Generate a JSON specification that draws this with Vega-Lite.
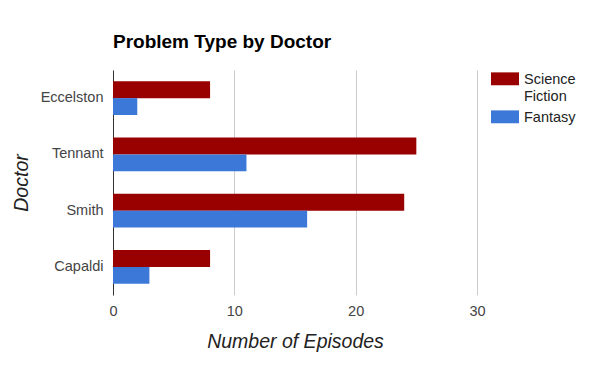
{
  "$schema": "https://vega.github.io/schema/vega-lite/v6.json",
  "autosize": {"type": "none"},
  "padding": {"left": 113, "top": 70, "right": 113, "bottom": 70},
  "width": 364,
  "height": 225,
  "background": "white",
  "config": {"view": {"stroke": null}},
  "title": {
    "text": "Problem Type by Doctor",
    "anchor": "start",
    "frame": "group",
    "font": "Liberation Sans",
    "fontSize": 19,
    "fontWeight": "bold",
    "color": "#000000",
    "offset": 18
  },
  "data": {
    "values": [
      {"doctor": "Eccelston", "type": "Science Fiction", "episodes": 8},
      {"doctor": "Eccelston", "type": "Fantasy", "episodes": 2},
      {"doctor": "Tennant", "type": "Science Fiction", "episodes": 25},
      {"doctor": "Tennant", "type": "Fantasy", "episodes": 11},
      {"doctor": "Smith", "type": "Science Fiction", "episodes": 24},
      {"doctor": "Smith", "type": "Fantasy", "episodes": 16},
      {"doctor": "Capaldi", "type": "Science Fiction", "episodes": 8},
      {"doctor": "Capaldi", "type": "Fantasy", "episodes": 3}
    ]
  },
  "mark": {"type": "bar"},
  "encoding": {
    "y": {
      "field": "doctor",
      "type": "nominal",
      "sort": ["Eccelston", "Tennant", "Smith", "Capaldi"],
      "scale": {"paddingInner": 0.4, "paddingOuter": 0.2},
      "axis": {
        "title": "Doctor",
        "titleFont": "Liberation Sans",
        "titleFontSize": 19.5,
        "titleFontStyle": "italic",
        "titleFontWeight": "normal",
        "titleColor": "#222222",
        "titlePadding": 9,
        "labelFont": "Liberation Sans",
        "labelFontSize": 14.5,
        "labelColor": "#444444",
        "labelPadding": 10,
        "ticks": false,
        "domainColor": "#333333",
        "domainWidth": 1,
        "grid": false
      }
    },
    "yOffset": {
      "field": "type",
      "type": "nominal",
      "sort": ["Science Fiction", "Fantasy"],
      "scale": {"paddingInner": 0, "paddingOuter": 0}
    },
    "x": {
      "field": "episodes",
      "type": "quantitative",
      "scale": {"domain": [0, 30], "nice": false},
      "axis": {
        "title": "Number of Episodes",
        "values": [0, 10, 20, 30],
        "labelFlush": false,
        "titleFont": "Liberation Sans",
        "titleFontSize": 19.5,
        "titleFontStyle": "italic",
        "titleFontWeight": "normal",
        "titleColor": "#222222",
        "titlePadding": 15,
        "labelFont": "Liberation Sans",
        "labelFontSize": 14.5,
        "labelColor": "#444444",
        "labelPadding": 9,
        "ticks": false,
        "domain": false,
        "grid": true,
        "gridColor": "#cccccc",
        "gridWidth": 1
      }
    },
    "color": {
      "field": "type",
      "type": "nominal",
      "scale": {"domain": ["Science Fiction", "Fantasy"], "range": ["#990000", "#3c78d8"]},
      "legend": {
        "title": null,
        "orient": "right",
        "offset": 14,
        "symbolType": "M-1,-0.83H1V0.09H-1Z",
        "symbolSize": 784,
        "symbolStrokeWidth": 0,
        "labelFont": "Liberation Sans",
        "labelFontSize": 14.5,
        "labelColor": "#222222",
        "labelBaseline": "alphabetic",
        "labelExpr": "datum.label == 'Science Fiction' ? ['Science', 'Fiction'] : datum.label",
        "rowPadding": 5,
        "labelOffset": 5
      }
    }
  }
}
